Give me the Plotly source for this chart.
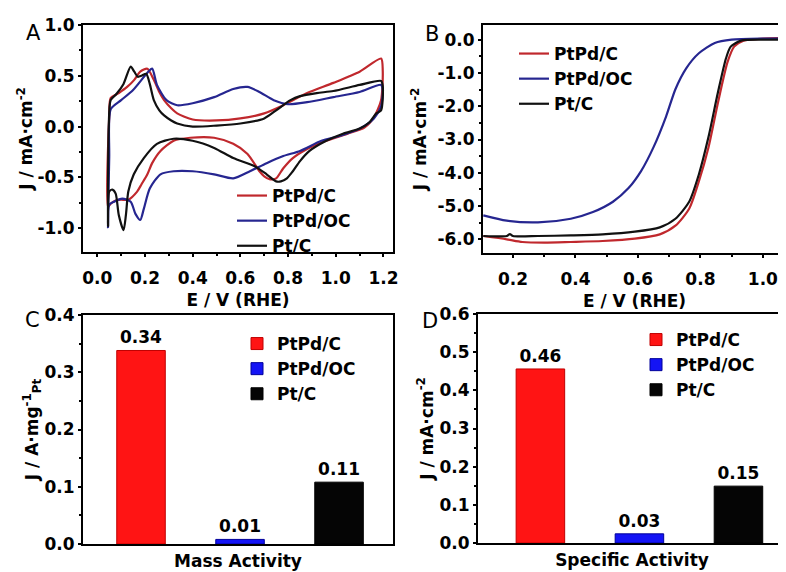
import plotly.graph_objects as go

# ---------------- data ----------------
series_names = ["PtPd/C", "PtPd/OC", "Pt/C"]

# Panel A: cyclic voltammograms (E / V vs RHE, J / mA cm^-2)
cv_E_ptpdc = [0.045, 0.05, 0.056, 0.09, 0.125, 0.155, 0.18, 0.21, 0.237, 0.26, 0.28, 0.31, 0.335, 0.40, 0.50,
              0.60, 0.70, 0.78, 0.88, 0.99, 1.10, 1.19, 1.197, 1.19, 1.16, 1.12, 1.05, 0.96, 0.88, 0.82, 0.78,
              0.75, 0.725, 0.70, 0.68, 0.63, 0.57, 0.49, 0.39, 0.32, 0.265, 0.23, 0.21, 0.185, 0.167, 0.13,
              0.098, 0.075, 0.056, 0.045]
cv_J_ptpdc = [-0.79, 0.1, 0.28, 0.33, 0.39, 0.46, 0.54, 0.57, 0.46, 0.34, 0.26, 0.18, 0.13, 0.07, 0.06,
              0.08, 0.13, 0.21, 0.33, 0.43, 0.54, 0.67, 0.55, 0.26, 0.09, -0.01, -0.07, -0.14, -0.22, -0.31, -0.41,
              -0.51, -0.52, -0.49, -0.44, -0.27, -0.17, -0.11, -0.11, -0.14, -0.24, -0.36, -0.47, -0.57, -0.64, -0.72,
              -0.72, -0.73, -0.76, -0.79]

cv_E_ptpdoc = [0.045, 0.05, 0.056, 0.10, 0.15, 0.21, 0.23, 0.25, 0.29, 0.335, 0.40, 0.49, 0.57, 0.63, 0.68,
               0.74, 0.80, 0.88, 0.99, 1.10, 1.19, 1.197, 1.19, 1.16, 1.10, 1.02, 0.94, 0.85, 0.78, 0.71, 0.64,
               0.57, 0.49, 0.40, 0.32, 0.265, 0.22, 0.195, 0.18, 0.16, 0.14, 0.105, 0.07, 0.05, 0.045]
cv_J_ptpdoc = [-0.99, -0.3, 0.17, 0.26, 0.36, 0.53, 0.57, 0.41, 0.26, 0.21, 0.23, 0.29, 0.37, 0.39, 0.34,
               0.26, 0.22, 0.24, 0.29, 0.34, 0.41, 0.35, 0.20, 0.08, -0.02, -0.09, -0.14, -0.24, -0.29, -0.36, -0.44,
               -0.51, -0.47, -0.44, -0.44, -0.47, -0.61, -0.81, -0.92, -0.86, -0.74, -0.71, -0.74, -0.77, -0.99]

cv_E_ptc = [0.045, 0.048, 0.056, 0.08, 0.11, 0.14, 0.155, 0.17, 0.185, 0.205, 0.22, 0.237, 0.26, 0.28, 0.31,
            0.335, 0.40, 0.50, 0.60, 0.70, 0.75, 0.81, 0.85, 0.92, 0.99, 1.10, 1.19, 1.197, 1.19, 1.17, 1.14,
            1.10, 1.03, 0.96, 0.89, 0.85, 0.82, 0.795, 0.77, 0.75, 0.71, 0.66, 0.57, 0.49, 0.40, 0.32, 0.25,
            0.195, 0.153, 0.13, 0.12, 0.11, 0.09, 0.077, 0.063, 0.05, 0.045]
cv_J_ptc = [-0.98, 0.0, 0.26, 0.32, 0.42, 0.59, 0.54, 0.49, 0.50, 0.52, 0.42, 0.26, 0.16, 0.11, 0.06,
            0.03, 0.0, 0.01, 0.03, 0.08, 0.16, 0.26, 0.30, 0.33, 0.35, 0.41, 0.45, 0.40, 0.16, 0.13, 0.04,
            -0.02, -0.07, -0.14, -0.24, -0.34, -0.44, -0.51, -0.54, -0.54, -0.47, -0.39, -0.31, -0.21, -0.14, -0.12, -0.17,
            -0.31, -0.47, -0.64, -0.87, -1.02, -0.87, -0.66, -0.62, -0.64, -0.98]

# Panel B: ORR polarisation curves
lsv_E_ptpdc = [0.105, 0.18, 0.23, 0.30, 0.385, 0.487, 0.59, 0.67, 0.72, 0.764, 0.795, 0.826, 0.856, 0.887,
               0.908, 0.938, 1.0, 1.08]
lsv_J_ptpdc = [-5.9, -6.0, -6.08, -6.1, -6.08, -6.05, -5.98, -5.85, -5.59, -5.08, -4.26, -3.23, -1.90, -0.67,
               -0.21, -0.03, 0.03, 0.05]
lsv_E_ptpdoc = [0.105, 0.18, 0.28, 0.385, 0.456, 0.52, 0.57, 0.61, 0.65, 0.69, 0.72, 0.754, 0.795, 0.846,
                0.90, 1.0, 1.08]
lsv_J_ptpdoc = [-5.28, -5.44, -5.49, -5.38, -5.18, -4.87, -4.46, -3.95, -3.23, -2.31, -1.49, -0.87, -0.41,
                -0.10, 0.0, 0.03, 0.03]
lsv_E_ptc = [0.105, 0.18, 0.19, 0.20, 0.28, 0.385, 0.487, 0.59, 0.67, 0.72, 0.764, 0.795, 0.826, 0.856,
             0.882, 0.897, 0.93, 1.0, 1.08]
lsv_J_ptc = [-5.9, -5.9, -5.84, -5.9, -5.9, -5.88, -5.85, -5.77, -5.64, -5.38, -4.87, -4.05, -2.92, -1.59,
             -0.56, -0.21, -0.03, 0.0, 0.0]

# Panels C, D: activities
mass_activity = [0.338, 0.008, 0.108]
mass_labels = ["0.34", "0.01", "0.11"]
specific_activity = [0.456, 0.024, 0.149]
specific_labels = ["0.46", "0.03", "0.15"]

# tick labels
a_yticks = [-1.0, -0.5, 0.0, 0.5, 1.0]
a_yticktext = ["-1.0", "-0.5", "0.0", "0.5", "1.0"]
b_yticks = [0, -1, -2, -3, -4, -5, -6]
b_yticktext = ["0.0", "-1.0", "-2.0", "-3.0", "-4.0", "-5.0", "-6.0"]

# ---------------- styling ----------------
FONT = "DejaVu Sans, Verdana, sans-serif"
line_colors = ["#c0282d", "#262690", "#111111"]
bar_colors = ["#ff1414", "#1414f5", "#050505"]
bar_edges = ["#c00000", "#00009a", "#000000"]
FS = 17

fig = go.Figure()

cv = [(cv_E_ptpdc, cv_J_ptpdc), (cv_E_ptpdoc, cv_J_ptpdoc), (cv_E_ptc, cv_J_ptc)]
for i, (e, j) in enumerate(cv):
    fig.add_trace(go.Scatter(x=e, y=j, mode="lines", name=series_names[i],
                             line=dict(color=line_colors[i], width=2.2, shape="spline", smoothing=0.7),
                             xaxis="x", yaxis="y", legend="legend"))

lsv = [(lsv_E_ptpdc, lsv_J_ptpdc), (lsv_E_ptpdoc, lsv_J_ptpdoc), (lsv_E_ptc, lsv_J_ptc)]
for i, (e, j) in enumerate(lsv):
    fig.add_trace(go.Scatter(x=e, y=j, mode="lines", name=series_names[i],
                             line=dict(color=line_colors[i], width=2.2, shape="spline", smoothing=0.7),
                             xaxis="x2", yaxis="y2", legend="legend2"))

for i in range(3):
    fig.add_trace(go.Bar(x=[series_names[i]], y=[mass_activity[i]], name=series_names[i], width=0.49,
                         marker=dict(color=bar_colors[i], line=dict(color=bar_edges[i], width=1)),
                         text=[mass_labels[i]], textposition="outside", cliponaxis=False,
                         textfont=dict(family=FONT, size=FS, color="black", weight="bold"),
                         xaxis="x3", yaxis="y3", legend="legend3"))

for i in range(3):
    fig.add_trace(go.Bar(x=[series_names[i]], y=[specific_activity[i]], name=series_names[i], width=0.49,
                         marker=dict(color=bar_colors[i], line=dict(color=bar_edges[i], width=1)),
                         text=[specific_labels[i]], textposition="outside", cliponaxis=False,
                         textfont=dict(family=FONT, size=FS, color="black", weight="bold"),
                         xaxis="x4", yaxis="y4", legend="legend4"))

W, H = 786, 572
OFF = 8  # the page body has an 8px margin; compensate so screen positions match


def px_x(p):
    return (p - OFF) / W


def px_y(p):
    return 1 - (p - OFF) / H


tickfont = dict(family=FONT, size=FS, color="black", weight="bold")
titlefont = dict(family=FONT, size=FS, color="black", weight="bold")


def axis(domain, rng, **kw):
    d = dict(domain=domain, range=rng, showline=True, linecolor="black", linewidth=2, mirror=True,
             showgrid=False, zeroline=False, ticks="outside", ticklen=3, tickwidth=1.5, tickcolor="black",
             tickfont=tickfont, automargin=False, fixedrange=True)
    d.update(kw)
    return d


fig.update_layout(
    width=W, height=H, margin=dict(l=0, r=0, t=0, b=0),
    paper_bgcolor="white", plot_bgcolor="white", barmode="overlay",
    font=dict(family=FONT, color="black"),
    # Panel A
    xaxis=axis([px_x(83), px_x(393)], [-0.06, 1.24], anchor="y", dtick=0.2, tick0=0, tickformat=".1f",
               ticklabelstandoff=7,
               minor=dict(ticks="outside", ticklen=2, dtick=0.1, tickcolor="black"),
               title=dict(text="E / V (RHE)", font=titlefont, standoff=7)),
    yaxis=axis([px_y(252), px_y(25)], [-1.235, 1.0], anchor="x", tickvals=a_yticks, ticktext=a_yticktext,
               minor=dict(ticks="outside", ticklen=2, dtick=0.25, tickcolor="black"),
               title=dict(text="J / mA·cm<sup>-2</sup>", font=titlefont, standoff=0)),
    # Panel B
    xaxis2=axis([px_x(483), px_x(786)], [0.104, 1.074], anchor="y2", dtick=0.2, tick0=0, tickformat=".1f",
                ticklabelstandoff=7,
                minor=dict(ticks="outside", ticklen=2, dtick=0.1, tickcolor="black"),
                title=dict(text="E / V (RHE)", font=titlefont, standoff=7)),
    yaxis2=axis([px_y(253), px_y(25)], [-6.41, 0.44], anchor="x2", tickvals=b_yticks, ticktext=b_yticktext,
                minor=dict(ticks="outside", ticklen=2, dtick=0.5, tickcolor="black"),
                title=dict(text="J / mA·cm<sup>-2</sup>", font=titlefont, standoff=6)),
    # Panel C
    xaxis3=axis([px_x(83), px_x(393)], [-0.586, 2.545], anchor="y3", type="category", ticks="",
                showticklabels=False,
                title=dict(text="Mass Activity", font=titlefont, standoff=10)),
    yaxis3=axis([px_y(544), px_y(315)], [0, 0.4], anchor="x3", dtick=0.1, tickformat=".1f",
                minor=dict(ticks="outside", ticklen=2, dtick=0.05, tickcolor="black"),
                title=dict(text="J / A·mg<sup>-1</sup><sub>Pt</sub>", font=titlefont, standoff=0)),
    # Panel D
    xaxis4=axis([px_x(478), px_x(786)], [-0.63, 2.48], anchor="y4", type="category", ticks="",
                showticklabels=False,
                title=dict(text="Specific Activity", font=titlefont, standoff=10)),
    yaxis4=axis([px_y(543), px_y(314)], [0, 0.6], anchor="x4", dtick=0.1, tickformat=".1f",
                minor=dict(ticks="outside", ticklen=2, dtick=0.05, tickcolor="black"),
                title=dict(text="J / mA·cm<sup>-2</sup>", font=titlefont, standoff=2)),
)

legend_common = dict(xanchor="left", yanchor="top", bgcolor="rgba(0,0,0,0)", borderwidth=0,
                     font=dict(family=FONT, size=FS, color="black", weight="bold"),
                     tracegroupgap=0, itemwidth=30, itemclick=False, itemdoubleclick=False)
fig.update_layout(
    legend=dict(x=px_x(232), y=px_y(178), **legend_common),
    legend2=dict(x=px_x(514), y=px_y(36), **legend_common),
    legend3=dict(x=px_x(237), y=px_y(326), **legend_common),
    legend4=dict(x=px_x(636), y=px_y(322), **legend_common),
)

letters = [("A", 33, 33), ("B", 432, 34), ("C", 32, 320), ("D", 430, 321)]
for t, x, y in letters:
    fig.add_annotation(text=t, x=px_x(x), y=px_y(y), xref="paper", yref="paper", showarrow=False,
                       xanchor="center", yanchor="middle", font=dict(family=FONT, size=21, color="black"))

fig.write_html("out.html")
